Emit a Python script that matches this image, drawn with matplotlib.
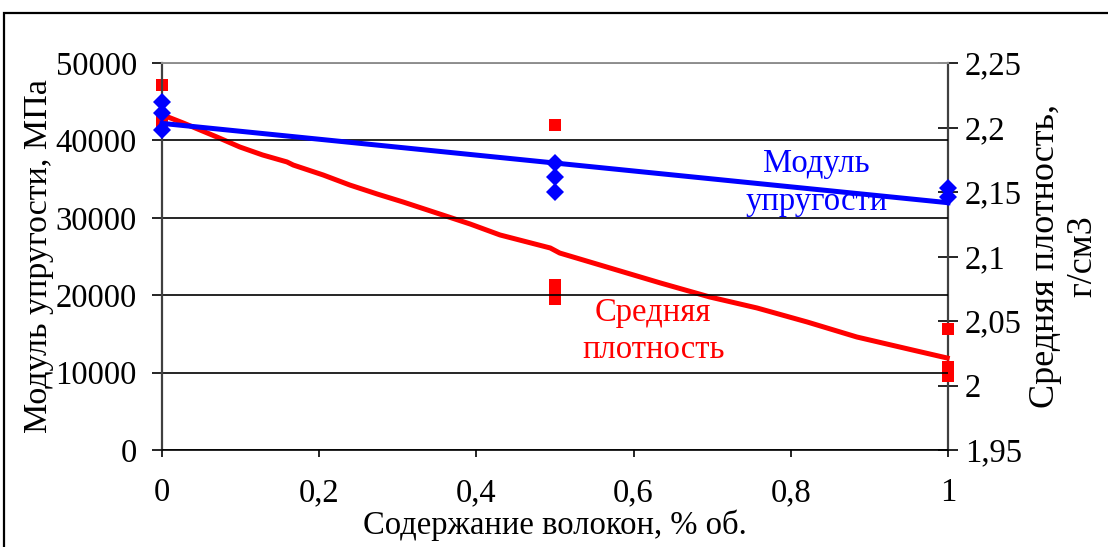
import matplotlib
matplotlib.use("Agg")
import matplotlib.pyplot as plt
from matplotlib.ticker import FuncFormatter, FixedLocator
from matplotlib.patches import Rectangle

plt.rcParams['font.family'] = ['Liberation Serif', 'DejaVu Serif']

# Data
fiber_mod = [0, 0, 0, 0.5, 0.5, 0.5, 1, 1]
modulus = [44960, 43500, 41350, 37040, 35310, 33370, 33850, 32700]

fiber_den = [0, 0, 0, 0.5, 0.5, 0.5, 0.5, 1, 1, 1, 1]
density = [2.233, 2.2058, 2.2004, 2.2019, 2.0779, 2.0725, 2.0671, 2.0436, 2.0143, 2.0100, 2.0074]

mod_trend_x = [0, 1]
mod_trend_y = [42200, 31950]

den_trend_x = [0.001, 0.027, 0.070, 0.099, 0.128, 0.159, 0.167, 0.205, 0.239, 0.274,
               0.307, 0.357, 0.392, 0.430, 0.494, 0.506, 0.570, 0.634, 0.697, 0.757,
               0.821, 0.884, 0.955, 0.999]
den_trend_y = [2.2097, 2.2035, 2.1926, 2.1849, 2.1787, 2.1733, 2.1709, 2.1632, 2.1554, 2.1484,
               2.1422, 2.1322, 2.1252, 2.1167, 2.1066, 2.1027, 2.0911, 2.0795, 2.0686, 2.0601,
               2.0492, 2.0376, 2.0275, 2.0213]

x_ticks = [0, 0.2, 0.4, 0.6, 0.8, 1]
left_ticks = [0, 10000, 20000, 30000, 40000, 50000]
right_ticks = [1.95, 2.0, 2.05, 2.1, 2.15, 2.2, 2.25]

FS = 23.5

fig = plt.figure(figsize=(11.08, 5.47), dpi=100)
L, R, B, T = 162/1108, 948/1108, 1-450/547, 1-63/547
ax = fig.add_axes([L, B, R-L, T-B])
ax2 = ax.twinx()
ax.set_zorder(ax2.get_zorder() + 1)
ax.patch.set_visible(False)

# outer chart frame
fig.patches.append(Rectangle((4/1108, -0.1), 1.2, 1 - 13/547 + 0.1, transform=fig.transFigure,
                             fill=False, edgecolor='black', linewidth=1.6, zorder=0))

# density (right axis)
ax2.plot(fiber_den, density, linestyle='none', marker='s', markersize=9, color='#ff0000',
         markeredgewidth=0, zorder=3, clip_on=False)
ax2.plot(den_trend_x, den_trend_y, color='#ff0000', linewidth=3.6, zorder=4,
         solid_joinstyle='round', clip_on=False)

# modulus (left axis)
ax.plot(fiber_mod, modulus, linestyle='none', marker='D', markersize=9.5, color='#0000ff',
        markeredgewidth=0, zorder=3, clip_on=False)
ax.plot(mod_trend_x, mod_trend_y, color='#0000ff', linewidth=3.6, zorder=4, clip_on=False)

ax.set_xlim(0, 1)
ax.set_ylim(0, 50000)
ax2.set_ylim(1.95, 2.25)

ax.xaxis.set_major_locator(FixedLocator(x_ticks))
ax.yaxis.set_major_locator(FixedLocator(left_ticks))
ax2.yaxis.set_major_locator(FixedLocator(right_ticks))

comma = lambda v, p: ('%g' % v).replace('.', ',')
ax.xaxis.set_major_formatter(FuncFormatter(comma))
ax.yaxis.set_major_formatter(FuncFormatter(lambda v, p: '%d' % v))
ax2.yaxis.set_major_formatter(FuncFormatter(comma))

ax.grid(axis='y', color='black', linewidth=1.2)
ax.set_axisbelow(True)

for a in (ax, ax2):
    for s in a.spines.values():
        s.set_visible(False)
ax.spines['left'].set_visible(True)
ax.spines['left'].set_color('#404040')
ax.spines['left'].set_linewidth(1.6)
ax.spines['top'].set_visible(True)
ax.spines['top'].set_color('#909090')
ax.spines['top'].set_linewidth(1.4)
ax.spines['bottom'].set_visible(True)
ax.spines['bottom'].set_color('black')
ax.spines['bottom'].set_linewidth(1.2)
ax2.spines['right'].set_visible(True)
ax2.spines['right'].set_color('#404040')
ax2.spines['right'].set_linewidth(1.6)

ax.tick_params(axis='y', direction='out', length=7, width=1.2, color='black', pad=11, labelsize=FS)
ax.tick_params(axis='x', direction='out', length=5, width=1.2, color='black', pad=15, labelsize=FS)
ax2.tick_params(axis='y', direction='inout', length=14, width=1.2, color='black', pad=5, labelsize=FS)

ax.set_xlabel('Содержание волокон, % об.', fontsize=FS, labelpad=1)
ax.set_ylabel('Модуль упругости, МПа', fontsize=24.5, labelpad=1)
ax2.set_ylabel('Средняя плотность,\nг/см3', fontsize=26, labelpad=5, linespacing=1.2)

ax.text(0.833, 0.69, 'Модуль\nупругости', transform=ax.transAxes, color='#0000ff',
        fontsize=FS, ha='center', va='center', linespacing=1.3, zorder=6)
ax.text(0.625, 0.307, 'Средняя\nплотность', transform=ax.transAxes, color='#ff0000',
        fontsize=FS, ha='center', va='center', linespacing=1.3, zorder=6)

fig.savefig('out.png', dpi=100)
